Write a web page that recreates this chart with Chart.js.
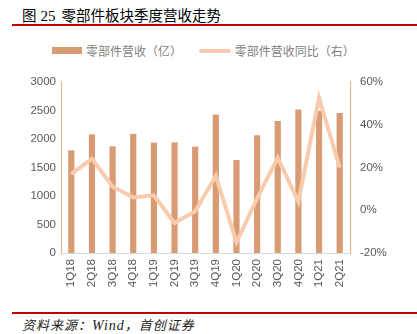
<!DOCTYPE html>
<html>
<head>
<meta charset="utf-8">
<script src="https://cdn.jsdelivr.net/npm/chart.js@4/dist/chart.umd.min.js"></script>
<style>
  html, body { margin: 0; padding: 0; background: #fff; }
  body { width: 417px; height: 334px; position: relative; overflow: hidden;
         font-family: "Noto Sans CJK SC", "Liberation Sans", sans-serif; }
  .title { position: absolute; left: 22px; top: 4px; font-size: 14.5px; font-weight: normal; color: #000; white-space: nowrap; }
  .title .num { font-family: "Liberation Serif", serif; font-size: 15px; margin: 0 6px 0 4px; }
  .rule { position: absolute; left: 12px; right: 0; height: 2px; background: #c00000; }
  .legend { position: absolute; top: 40px; left: 52px; font-size: 12px; color: #7f7f7f; white-space: nowrap; }
  .legend span { display: inline-block; vertical-align: middle; }
  .sw-bar { width: 30px; height: 7px; background: #d99b73; margin-right: 4px; }
  .sw-line { width: 32px; height: 4px; background: #f8cbad; border-radius: 2px; margin-left: 14px; margin-right: 4px; }
  .source { position: absolute; left: 22px; top: 315px; font-size: 13px; font-style: italic; color: #222; white-space: nowrap; letter-spacing: 1px; }
  .source .en { font-family: "Liberation Serif", serif; font-size: 14px; }
  #wrap { position: absolute; left: 0; top: 60px; width: 417px; height: 240px; }
</style>
</head>
<body>
<div class="title">图<span class="num">25</span>零部件板块季度营收走势</div>
<div class="rule" style="top:24px"></div>
<div class="legend">
  <span class="sw-bar"></span><span>零部件营收（亿）</span>
  <span class="sw-line"></span><span>零部件营收同比（右）</span>
</div>
<div id="wrap"><canvas id="chart"></canvas></div>
<div class="rule" style="top:312px"></div>
<div class="source">资料来源：<span class="en">Wind</span>，首创证券</div>
<script>
const quarters = ['1Q18','2Q18','3Q18','4Q18','1Q19','2Q19','3Q19','4Q19','1Q20','2Q20','3Q20','4Q20','1Q21','2Q21'];
const revenue = [1800, 2080, 1870, 2090, 1935, 1940, 1865, 2430, 1630, 2065, 2315, 2515, 2495, 2455];
const revenueYoY = [17, 24, 11, 6, 7, -6, -0.5, 16, -15, 5.5, 24.5, 4, 52.5, 20];

const tickFont = { family: 'Liberation Sans', size: 11.5 };
const tickColor = '#595959';

new Chart(document.getElementById('chart').getContext('2d'), {
  data: {
    labels: quarters,
    datasets: [
      {
        type: 'line',
        label: '零部件营收同比（右）',
        data: revenueYoY,
        yAxisID: 'y1',
        borderColor: '#f8cbad',
        borderWidth: 4,
        pointRadius: 0,
        tension: 0,
        order: 1
      },
      {
        type: 'bar',
        label: '零部件营收（亿）',
        data: revenue,
        yAxisID: 'y',
        backgroundColor: '#d99b73',
        barPercentage: 0.6,
        categoryPercentage: 0.5,
        order: 2
      }
    ]
  },
  options: {
    responsive: true,
    maintainAspectRatio: false,
    animation: false,
    layout: { padding: { top: 11, left: 0, right: 0, bottom: 0 } },
    plugins: { legend: { display: false }, tooltip: { enabled: false } },
    scales: {
      x: {
        grid: { display: false, drawTicks: false },
        border: { color: '#d9d9d9', width: 1 },
        ticks: { font: tickFont, color: tickColor, minRotation: 90, maxRotation: 90, padding: 6 },
        afterFit: s => { s.height = 47; }
      },
      y: {
        position: 'left',
        min: 0, max: 3000,
        ticks: { stepSize: 500, font: tickFont, color: tickColor, padding: 10, callback: v => String(v) },
        grid: { display: false, drawOnChartArea: false, tickLength: -5, tickColor: '#f4b183' },
        border: { color: '#f4b183', width: 1 },
        afterFit: s => { s.width = 61; }
      },
      y1: {
        position: 'right',
        min: -20, max: 60,
        ticks: { stepSize: 20, font: tickFont, color: tickColor, padding: 15, callback: v => v + '%' },
        grid: { display: false, drawOnChartArea: false, tickLength: -5, tickColor: '#f4b183' },
        border: { color: '#f4b183', width: 1 },
        afterFit: s => { s.width = 67; }
      }
    }
  }
});
</script>
</body>
</html>
